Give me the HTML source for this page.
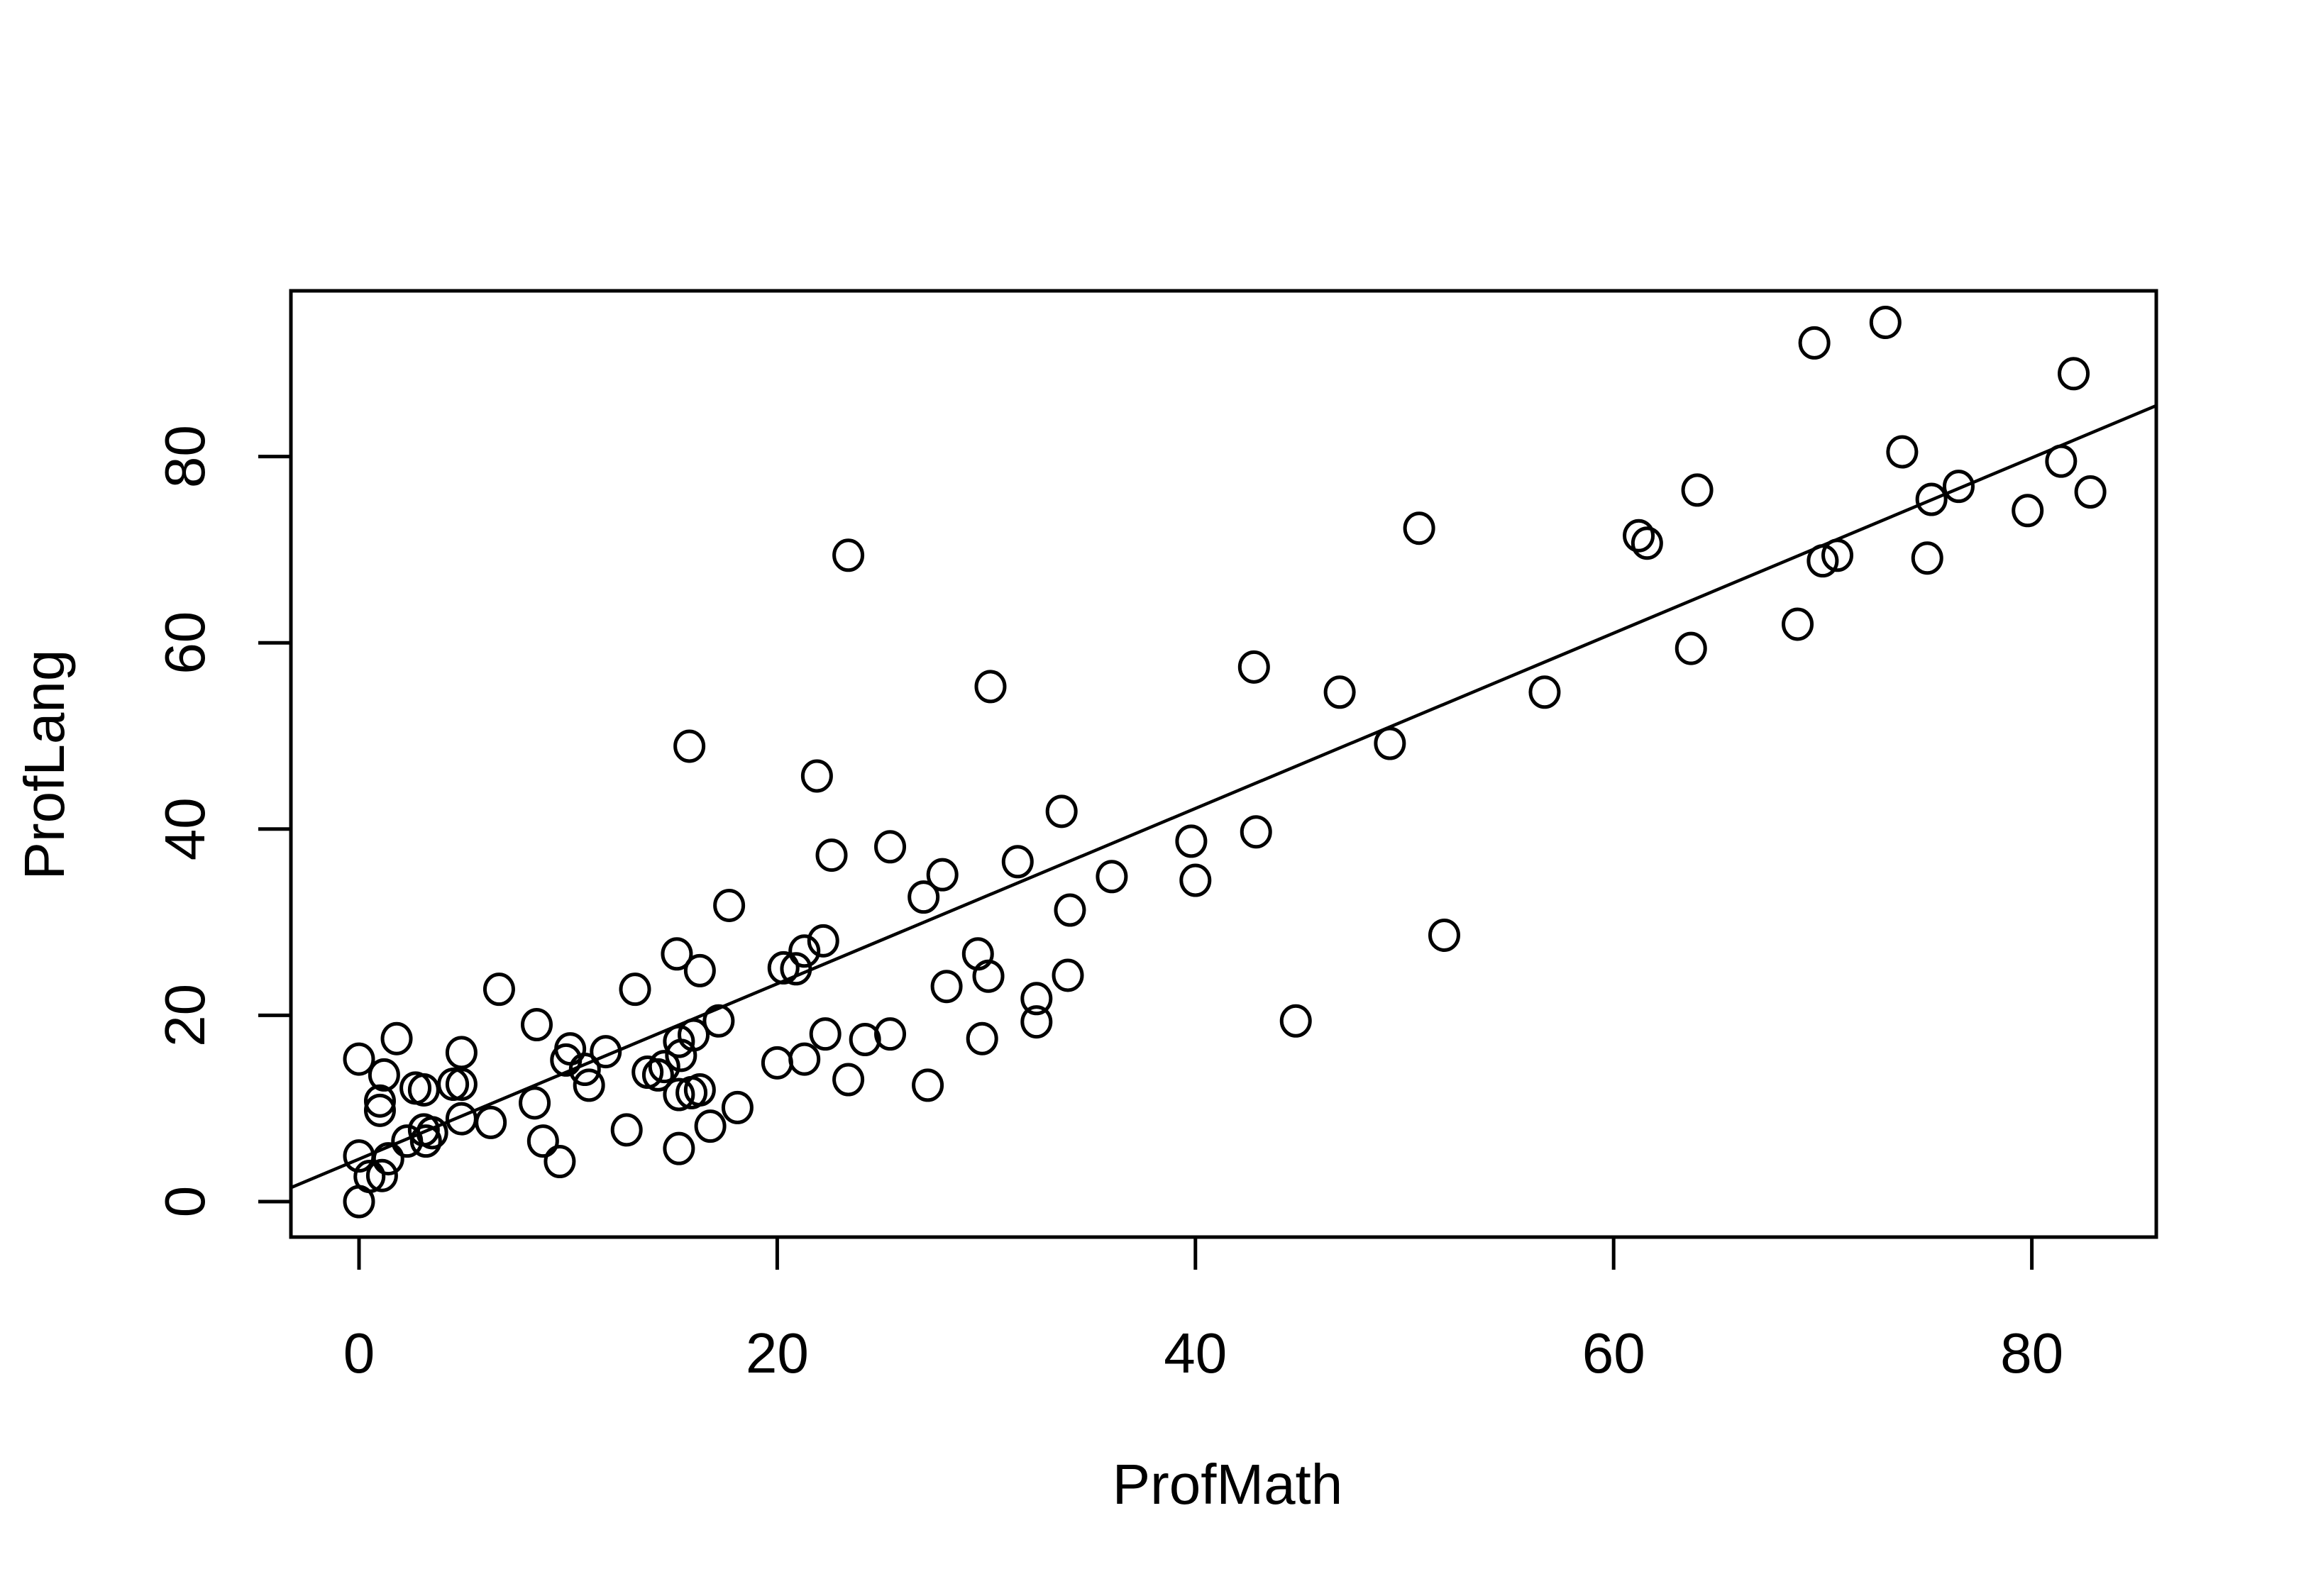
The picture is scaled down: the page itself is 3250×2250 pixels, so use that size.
<!DOCTYPE html>
<html><head><meta charset="utf-8"><style>html,body{margin:0;padding:0;background:#fff}svg{display:block}</style></head>
<body>
<svg id="chart" xmlns="http://www.w3.org/2000/svg" width="3250" height="2250" viewBox="0 0 3250 2250">
<rect width="3250" height="2250" fill="#fff"/>
<g id="marks"></g>
<rect x="410" y="410" width="2629" height="1334" fill="none" stroke="#000" stroke-width="5"/>
<g id="axes" font-family="Liberation Sans, sans-serif" font-size="80" fill="#000"></g>
<text x="1730" y="2120" font-family="Liberation Sans, sans-serif" font-size="80" text-anchor="middle">ProfMath</text>
<text transform="translate(90,1078) rotate(-90)" font-family="Liberation Sans, sans-serif" font-size="80" text-anchor="middle">ProfLang</text>
</svg>
<script>
const profMath = [0,0,0,0.5,1.1,1.4,1.0,1.0,1.2,1.8,2.3,2.7,3.1,3.1,3.2,3.5,4.5,4.9,4.9,4.9,6.3,6.7,8.4,8.5,8.8,9.6,9.9,10.1,10.8,11.0,11.8,12.8,13.2,13.8,14.3,14.6,15.2,15.3,15.4,15.3,15.3,15.8,15.9,16.3,16.0,16.3,16.8,17.2,17.7,18.1,20.0,20.3,20.9,21.3,21.3,21.9,22.2,22.3,22.6,23.4,23.4,24.2,25.4,25.4,27.0,27.2,27.9,28.1,29.6,29.8,30.1,30.2,31.5,32.4,32.4,33.6,33.9,34.0,36.0,39.8,40.0,42.8,42.9,44.8,46.9,49.3,50.7,51.9,56.7,61.2,61.6,63.7,64.0,68.8,69.6,70.0,70.7,73.0,73.8,75.0,75.2,76.5,79.8,81.4,82.0,82.8];
const profLang = [15.3,4.9,0,2.7,2.8,4.6,10.8,9.8,13.6,17.5,6.5,12.2,12.0,7.7,6.5,7.4,12.6,12.6,16.0,8.9,8.5,22.8,10.6,19.0,6.5,4.3,15.2,16.4,14.2,12.5,16.1,7.7,22.8,13.9,13.6,14.5,26.6,17.2,15.7,11.5,5.7,48.9,11.7,12.0,17.9,24.8,8.1,19.4,31.8,10.1,14.9,25.1,25.0,26.9,15.3,45.7,28.0,18.0,37.2,69.4,13.1,17.4,38.1,18.0,32.7,12.5,35.1,23.1,26.6,17.5,24.2,55.3,36.5,21.8,19.3,41.9,24.3,31.3,34.9,38.7,34.5,57.4,39.7,19.4,54.7,49.2,72.3,28.6,54.7,71.5,70.7,59.4,76.4,62.0,92.2,68.8,69.4,94.4,80.5,69.1,75.4,76.8,74.2,79.5,88.9,76.2];
const xTicks = [0,20,40,60,80];
const yTicks = [0,20,40,60,80];

const NS = "http://www.w3.org/2000/svg";
const X0 = 506, XS = 29.47, Y0 = 1694, YS = 13.13;
const PL = 410, PR = 3039, PT = 410, PB = 1744;
const sx = v => X0 + v * XS;
const sy = v => Y0 - v * YS;
const xInv = px => (px - X0) / XS;

function mk(tag, attrs, parent) {
  const e = document.createElementNS(NS, tag);
  for (const k in attrs) e.setAttribute(k, attrs[k]);
  parent.appendChild(e);
  return e;
}
const marks = document.getElementById('marks');
const axes = document.getElementById('axes');

const n = profMath.length;
let mx = 0, my = 0;
for (let i = 0; i < n; i++) { mx += profMath[i]; my += profLang[i]; }
mx /= n; my /= n;
let sxy = 0, sxx = 0;
for (let i = 0; i < n; i++) { sxy += (profMath[i]-mx)*(profLang[i]-my); sxx += (profMath[i]-mx)**2; }
const b = sxy / sxx, a = my - b * mx;
const xa = xInv(PL), xb = xInv(PR);
const line = mk('line', {x1: PL, y1: sy(a + b*xa), x2: PR, y2: sy(a + b*xb), stroke: '#000', 'stroke-width': 4.5}, marks);



for (let i = 0; i < n; i++) {
  const c = mk('ellipse', {cx: sx(profMath[i]), cy: sy(profLang[i]), rx: 20, ry: 21, fill: 'none', stroke: '#000', 'stroke-width': 5}, marks);
  
  
}

const xl = mk('line', {x1: sx(xTicks[0]), y1: PB, x2: sx(xTicks[xTicks.length-1]), y2: PB, stroke: '#000', 'stroke-width': 5}, axes);


xTicks.forEach(t => {
  const tk = mk('line', {x1: sx(t), y1: PB, x2: sx(t), y2: PB + 46, stroke: '#000', 'stroke-width': 5}, axes);
  
  
  const tx = mk('text', {x: sx(t), y: 1935, 'text-anchor': 'middle'}, axes);
  tx.textContent = t;
  
  
});
const yl = mk('line', {x1: PL, y1: sy(yTicks[0]), x2: PL, y2: sy(yTicks[yTicks.length-1]), stroke: '#000', 'stroke-width': 5}, axes);


yTicks.forEach(t => {
  const tk = mk('line', {x1: PL, y1: sy(t), x2: PL - 46, y2: sy(t), stroke: '#000', 'stroke-width': 5}, axes);
  
  
  const tx = mk('text', {transform: `translate(288,${sy(t)}) rotate(-90)`, 'text-anchor': 'middle'}, axes);
  tx.textContent = t;
  
  
});
</script>
</body></html>
